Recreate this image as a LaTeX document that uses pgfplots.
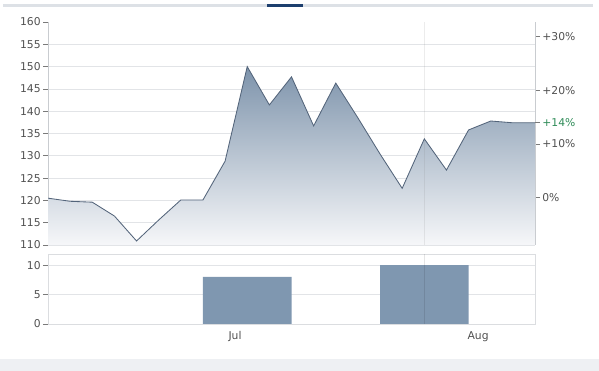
\documentclass[border=0pt]{standalone}
\usepackage{fontspec}
\setmainfont{DejaVu Sans}
\usepackage{pgfplots}
\pgfplotsset{compat=1.18}
\definecolor{linec}{HTML}{53647A}
\definecolor{filltop}{HTML}{7D93AB}
\definecolor{fillbot}{HTML}{F6F7F9}
\definecolor{barc}{HTML}{7F97B0}
\definecolor{gridc}{HTML}{E2E4E7}
\definecolor{axc}{HTML}{C9CCD0}
\definecolor{tickc}{HTML}{7A7A7A}
\definecolor{labc}{HTML}{505050}
\definecolor{greenc}{HTML}{2E8B57}
\definecolor{navyc}{HTML}{1D3F6E}
\definecolor{topbar}{HTML}{DDE1E6}
\definecolor{botband}{HTML}{EEF0F3}
\pgfplotsset{
  common/.style={
    scale only axis, width=487bp,
    xmin=0, xmax=22,
    tick align=outside, major tick length=5bp,
    every tick/.style={tickc, line width=0.6pt},
    ticklabel style={font=\fontsize{10.8}{12}\selectfont, text=labc},
    /pgf/number format/assume math mode=true,
    axis line style={axc, line width=0.6pt},
  }
}
\begin{document}
\begin{tikzpicture}
\useasboundingbox (0,0) rectangle (599bp,371bp);
% page decorations
\fill[topbar] (3bp,363.7bp) rectangle (593bp,367bp);
\fill[navyc] (267bp,363.7bp) rectangle (303bp,367bp);
\fill[botband] (0,0) rectangle (599bp,12bp);
% upper price panel
\begin{axis}[common,
  at={(48bp,126bp)}, anchor=south west, height=223bp,
  ymin=110, ymax=160,
  axis x line=none, axis y line*=left,
  ytick={110,115,...,155},
  extra y ticks={160}, extra y tick style={grid=none},
  ymajorgrids, grid style={gridc, line width=0.6pt},
  yticklabel style={inner xsep=2.2bp},
]
\addplot[draw=none, top color=filltop, bottom color=fillbot] table {
x y
0 120.5
1 119.8
2 119.6
3 116.5
4 110.9
5 115.6
6 120.1
7 120.1
8 128.8
9 150.0
10 141.4
11 147.7
12 136.7
13 146.3
14 138.5
15 130.4
16 122.7
17 133.8
18 126.8
19 135.8
20 137.8
21 137.4
22 137.4
} |- (axis cs:0,110) -- cycle;
\draw[gray, opacity=0.15, line width=0.6pt] (axis cs:17,110) -- (axis cs:17,160);
\addplot[linec, line width=0.85pt, mark=none] table {
x y
0 120.5
1 119.8
2 119.6
3 116.5
4 110.9
5 115.6
6 120.1
7 120.1
8 128.8
9 150.0
10 141.4
11 147.7
12 136.7
13 146.3
14 138.5
15 130.4
16 122.7
17 133.8
18 126.8
19 135.8
20 137.8
21 137.4
22 137.4
};
\end{axis}
% right percentage axis
\begin{axis}[common,
  at={(48bp,126bp)}, anchor=south west, height=223bp,
  ymin=-8.789, ymax=32.670,
  axis x line=none, axis y line*=right,
  ytick={0,10,20,30},
  yticklabels={0\%,+10\%,+20\%,+30\%},
  extra y ticks={14}, extra y tick labels={+14\%},
  extra y tick style={yticklabel style={text=greenc}},
  yticklabel style={inner xsep=2.2bp},
]
\addplot[draw=none] coordinates {(0,0)};
\end{axis}
% lower volume panel
\begin{axis}[common,
  at={(48bp,47bp)}, anchor=south west, height=70bp,
  ymin=0, ymax=11.9,
  axis line style={gridc!70!axc, line width=0.6pt},
  ytick={0,5,10}, ytick pos=left,
  ymajorgrids, grid style={gridc, line width=0.6pt},
  xtick={8.45,19.43}, xticklabels={Jul,Aug},
  xtick style={draw=none},
  yticklabel style={inner xsep=2.2bp},
  xticklabel style={inner ysep=2bp},
]
\addplot[ybar, bar width=4, bar shift=0pt, fill=barc, draw=none] coordinates {(9,8) (17,10)};
\draw[black, opacity=0.1, line width=0.6pt] (axis cs:17,0) -- (axis cs:17,11.9);
\end{axis}
\end{tikzpicture}
\end{document}
